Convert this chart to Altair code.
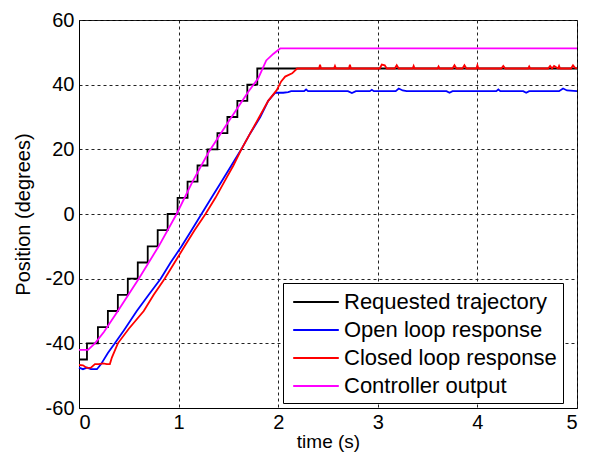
import altair as alt
import pandas as pd

# ---------------- data ----------------
series_names = ["Requested trajectory", "Open loop response",
                "Closed loop response", "Controller output"]
series_colors = ["#000000", "#0000ff", "#ff0000", "#ff00ff"]

x_ticks = [0, 1, 2, 3, 4, 5]
y_ticks = [-60, -40, -20, 0, 20, 40, 60]

# Requested trajectory (staircase, step-after)
req_t = [0.0, 0.08, 0.19, 0.29, 0.39, 0.49, 0.59, 0.69, 0.79, 0.89,
         0.99, 1.09, 1.19, 1.29, 1.39, 1.49, 1.59, 1.69, 1.79, 5.0]
req_v = [-45, -40, -35, -30, -25, -20, -15, -10, -5, 0,
         5, 10, 15, 20, 25, 30, 35, 40, 45, 45]

# Open loop response
open_t = [0.0, 0.04, 0.08, 0.12, 0.18, 0.22, 0.29, 0.36, 0.45, 0.58,
          0.70, 0.82, 0.92, 1.03, 1.13, 1.23, 1.33, 1.43, 1.53, 1.63,
          1.72, 1.82, 1.90, 1.97, 2.05, 2.10, 2.13, 2.26, 2.28, 2.30,
          2.70, 2.74, 2.78, 2.92, 2.94, 2.96, 3.18, 3.21, 3.25, 3.29,
          3.69, 3.72, 3.75, 4.19, 4.21, 4.23, 4.46, 4.49, 4.52, 4.82,
          4.86, 4.90, 5.0]
open_v = [-47.5, -48.0, -47.5, -48.0, -48.0, -46.5, -43.0, -40.0, -36.0, -30.0,
          -25.0, -20.0, -15.0, -10.0, -5.0, 0.0, 5.0, 10.0, 15.0, 20.0,
          25.0, 30.0, 35.0, 37.5, 37.5, 37.7, 38.0, 38.0, 38.5, 38.0,
          38.0, 37.4, 38.0, 38.0, 38.4, 38.0, 38.0, 38.8, 38.2, 38.0,
          38.0, 37.5, 38.0, 38.0, 38.5, 38.0, 38.0, 37.5, 38.0, 38.0,
          38.8, 38.2, 38.0]

# Closed loop response
closed_t = [0.0, 0.04, 0.08, 0.12, 0.16, 0.20, 0.24, 0.28, 0.31, 0.33,
            0.39, 0.50, 0.65, 0.75, 0.86, 0.96, 1.06, 1.16, 1.27, 1.37,
            1.46, 1.55, 1.63, 1.72, 1.81, 1.90, 1.985, 2.03, 2.07, 2.14,
            2.19, 2.41, 2.42, 2.43, 2.56, 2.57, 2.58, 2.71, 2.72, 2.73,
            3.02, 3.04, 3.07, 3.09, 3.17, 3.19, 3.21, 3.35, 3.36, 3.37,
            3.60, 3.61, 3.62, 3.75, 3.77, 3.79, 3.85, 3.87, 3.89, 3.99,
            4.00, 4.01, 4.24, 4.26, 4.28, 4.51, 4.52, 4.53, 4.71, 4.73,
            4.75, 4.77, 4.81, 4.82, 4.83, 4.94, 4.96, 4.98, 5.0]
closed_v = [-46.7, -46.8, -47.6, -47.5, -46.4, -46.4, -46.2, -46.4, -46.4, -44.4,
            -40.0, -35.5, -30.0, -25.0, -20.0, -15.0, -10.0, -5.0, 0.0, 5.0,
            10.0, 15.0, 20.0, 25.0, 30.0, 35.0, 38.3, 41.0, 42.5, 43.5,
            45.0, 45.0, 46.2, 45.0, 45.0, 45.8, 45.0, 45.0, 46.2, 45.0,
            45.0, 46.2, 46.0, 45.0, 45.0, 46.0, 45.0, 45.0, 45.8, 45.0,
            45.0, 45.6, 45.0, 45.0, 46.0, 45.0, 45.0, 46.0, 45.0, 45.0,
            46.0, 45.0, 45.0, 45.8, 45.0, 45.0, 45.6, 45.0, 45.0, 45.8,
            45.0, 45.8, 45.0, 45.8, 45.0, 45.0, 46.0, 45.2, 45.0]

# Controller output
ctrl_t = [0.0, 0.09, 0.16, 0.25, 0.40, 0.60, 0.80, 0.98, 1.14, 1.30,
          1.50, 1.70, 1.80, 1.88, 1.95, 2.02, 5.0]
ctrl_v = [-42.0, -42.0, -40.0, -36.5, -29.5, -20.0, -10.0, 0.0, 10.0, 19.0,
          28.5, 37.8, 42.0, 47.5, 49.5, 51.2, 51.2]

# ---------------- tables ----------------
req_df = pd.DataFrame({"t": req_t, "v": req_v, "series": series_names[0]})
others = []
for name, ts, vs in [(series_names[1], open_t, open_v),
                     (series_names[2], closed_t, closed_v),
                     (series_names[3], ctrl_t, ctrl_v)]:
    others.append(pd.DataFrame({"t": ts, "v": vs, "series": name}))
oth_df = pd.concat(others, ignore_index=True)
oth_df["order"] = range(len(oth_df))

FONT = "Liberation Sans"

x_enc = alt.X("t:Q", scale=alt.Scale(domain=[0, 5], nice=False, zero=False),
              axis=alt.Axis(values=x_ticks, title="time (s)", format="d",
                            labelPadding=4, titlePadding=0, titleFontSize=19))
y_enc = alt.Y("v:Q", scale=alt.Scale(domain=[-60, 60], nice=False, zero=False),
              axis=alt.Axis(values=y_ticks, title="Position (degrees)",
                            labelExpr="'' + datum.value", titlePadding=12))
color_enc = alt.Color(
    "series:N",
    scale=alt.Scale(domain=series_names, range=series_colors),
    legend=alt.Legend(
        orient="none", legendX=204, legendY=263, title=None,
        symbolType="M-1.9,0H1.9", symbolSize=576, symbolStrokeWidth=2,
        symbolOffset=14, labelOffset=15, labelLimit=400,
        labelFont=FONT, labelFontSize=22, labelColor="black",
        fillColor="white", strokeColor="black", padding=6, rowPadding=4,
    ),
)

req_line = alt.Chart(req_df).mark_line(
    interpolate="step-after", strokeWidth=1.8
).encode(x=x_enc, y=y_enc, color=color_enc)

oth_line = alt.Chart(oth_df).mark_line(strokeWidth=1.8).encode(
    x=x_enc, y=y_enc, color=color_enc, order="order:Q"
)

chart = alt.layer(req_line, oth_line).properties(
    width=498, height=388,
    autosize=alt.AutoSizeParams(type="none"),
    padding={"left": 71, "top": 12, "right": 5, "bottom": 45},
).configure(
    background="white"
).configure_view(
    stroke="black", strokeWidth=1, fill="white"
).configure_axis(
    labelFont=FONT, labelFontSize=20, labelColor="black",
    titleFont=FONT, titleFontSize=20, titleColor="black", titleFontWeight="normal",
    domainColor="black", domainWidth=1,
    tickSize=0, labelPadding=5,
    gridColor="#222222", gridDash=[3, 3], gridWidth=1, gridOpacity=1,
)

chart.save("out.html", embed_options={"renderer": "svg", "actions": False})
